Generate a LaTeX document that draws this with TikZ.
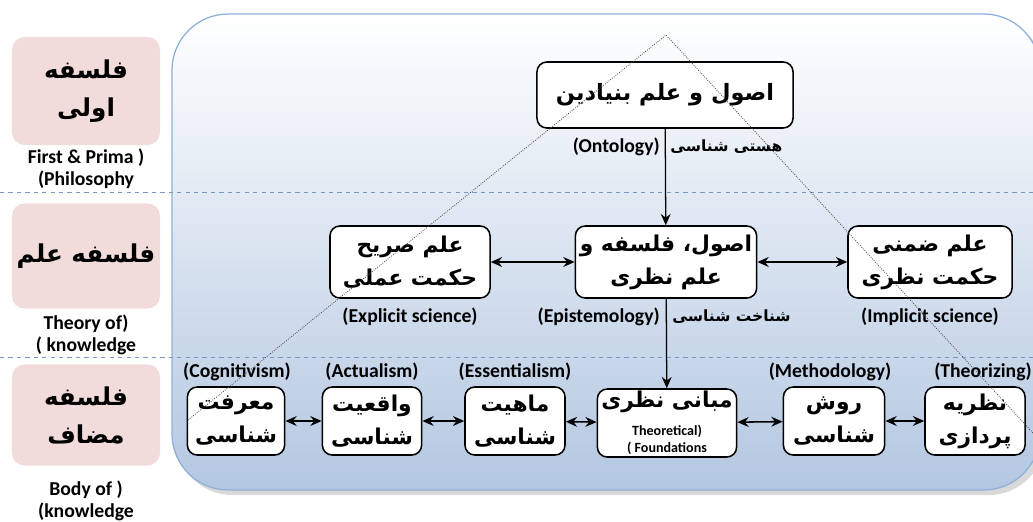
\documentclass[tikz,border=0pt]{standalone}
\usepackage{fontspec}
\setmainfont{Carlito}
\newfontfamily\arabicfont[Script=Arabic]{DejaVu Sans}
\TeXXeTstate=1
\usetikzlibrary{arrows.meta}
\newcommand{\fa}[1]{{\arabicfont\bfseries\beginR #1\endR}}
\definecolor{pinkbox}{HTML}{F2DCDB}
\definecolor{panelblue}{HTML}{B3C7E1}
\definecolor{panelmid}{HTML}{DCE6F2}
\definecolor{panelline}{HTML}{8EB0DA}
\definecolor{rowline}{HTML}{7B96C2}
\begin{document}
\begin{tikzpicture}[x=0.025cm,y=-0.025cm]
        \tikzstyle{concept}=[draw=black,line width=1.1pt,fill=white,rounded corners=7pt,inner sep=0pt,align=center,font=\fontsize{15.5}{23.5}\selectfont]
        \tikzstyle{field}=[fill=pinkbox,rounded corners=9pt,inner sep=0pt,align=center,minimum width=3.7cm,font=\fontsize{17.5}{27}\selectfont]
        \tikzstyle{tag}=[inner sep=0pt,align=center,font=\bfseries\fontsize{14}{15.5}\selectfont]
        \tikzstyle{fatag}=[inner sep=0pt,font=\fontsize{11}{14}\selectfont]
        \tikzstyle{link}=[draw,line width=1.1pt,{Stealth[length=8pt,width=7pt]}-{Stealth[length=8pt,width=7pt]}]
        \tikzstyle{down}=[draw,line width=0.9pt,-{Stealth[length=8pt,width=7pt]}]
        \useasboundingbox (0,0) rectangle (1033,521);
       \begin{scope}
         % panel
         \fill[gray!30,rounded corners=40pt] (176,19) rectangle (1045,495);
         \draw[panelline,line width=0.9pt,rounded corners=40pt,top color=white,middle color=panelmid,bottom color=panelblue] (172,14) rectangle (1040,490);
         \draw[rowline,dashed,line width=0.7pt] (0,192) -- (1033,192);
         \draw[rowline,dashed,line width=0.7pt] (0,357) -- (1033,357);

         % left column
         \node [field,minimum height=2.7cm] (f1) at (86,91) {\fa{فلسفه}\\\fa{اولی}};
         \node [field,minimum height=2.63cm] (f2) at (86,256) {\fa{فلسفه علم}};
         \node [field,minimum height=2.53cm] (f3) at (86,415) {\fa{فلسفه}\\\fa{مضاف}};
         \node [tag] (t1) at (86,169) {First \& Prima )\\(Philosophy};
         \node [tag] (t2) at (86,335) {Theory of)\\( knowledge};
         \node [tag] (t3) at (86,501) {Body of )\\(knowledge};

         % top
         \node [concept,minimum width=6.4cm,minimum height=1.65cm,font=\fontsize{16}{24}\selectfont] (root) at (665,95) {\fa{اصول و علم بنیادین}};
         \node [tag,anchor=east] (onto) at (660,147) {(Ontology)};
         \node [fatag,anchor=west] (ontofa) at (670,147) {\fa{هستی شناسی}};

         % middle
         \node [concept,minimum width=4.0cm,minimum height=1.8cm] (expl) at (410,262) {\fa{علم صریح}\\\fa{حکمت عملی}};
         \node [concept,minimum width=4.53cm,minimum height=1.8cm] (theo) at (666,262) {\fa{اصول، فلسفه و}\\\fa{علم نظری}};
         \node [concept,minimum width=4.1cm,minimum height=1.8cm] (impl) at (930,262) {\fa{علم ضمنی}\\\fa{حکمت نظری}};
         \node [tag] (expltag) at (410,317) {(Explicit science)};
         \node [tag] (impltag) at (930,317) {(Implicit science)};
         \node [tag,anchor=east] (epis) at (660,317) {(Epistemology)};
         \node [fatag,anchor=west] (episfa) at (672,317) {\fa{شناخت شناسی}};

         % bottom
         \node [concept,minimum width=2.43cm,minimum height=1.7cm] (b1) at (236,421) {\fa{معرفت}\\\fa{شناسی}};
         \node [concept,minimum width=2.48cm,minimum height=1.7cm] (b2) at (372,421) {\fa{واقعیت}\\\fa{شناسی}};
         \node [concept,minimum width=2.5cm,minimum height=1.7cm] (b3) at (515,421) {\fa{ماهیت}\\\fa{شناسی}};
         \node [concept,minimum width=3.48cm,minimum height=1.7cm] (b4) at (667,423) {\fa{مبانی نظری}\\[-4pt]{\bfseries\fontsize{10}{12}\selectfont Theoretical)}\\[-11pt]{\bfseries\fontsize{10}{12}\selectfont ( Foundations}};
         \node [concept,minimum width=2.53cm,minimum height=1.7cm] (b5) at (834,421) {\fa{روش}\\\fa{شناسی}};
         \node [concept,minimum width=2.5cm,minimum height=1.7cm] (b6) at (975,421) {\fa{نظریه}\\\fa{پردازی}};
         \node [tag] (c1) at (237,372) {(Cognitivism)};
         \node [tag] (c2) at (372,372) {(Actualism)};
         \node [tag] (c3) at (515,372) {(Essentialism)};
         \node [tag] (c5) at (830,372) {(Methodology)};
         \node [tag] (c6) at (983,372) {(Theorizing)};

         \path[down] (root) -- (theo);
         \path[down] (theo) -- (b4);
         \path[link] (expl) -- (theo);
         \path[link] (theo) -- (impl);
         \path[link] (b1) -- (b2);
         \path[link] (b2) -- (b3);
         \path[link] (b3) -- (b4);
         \path[link] (b4) -- (b5);
         \path[link] (b5) -- (b6);

         % triangle
         \coordinate (apex) at (666,35);
         \coordinate (foot1) at (188,420);
         \coordinate (foot2) at (1033,433);
         \draw[black!70,densely dotted,line width=0.6pt] (foot1) -- (apex) -- (foot2);
        \end{scope}
      \end{tikzpicture}
\end{document}
